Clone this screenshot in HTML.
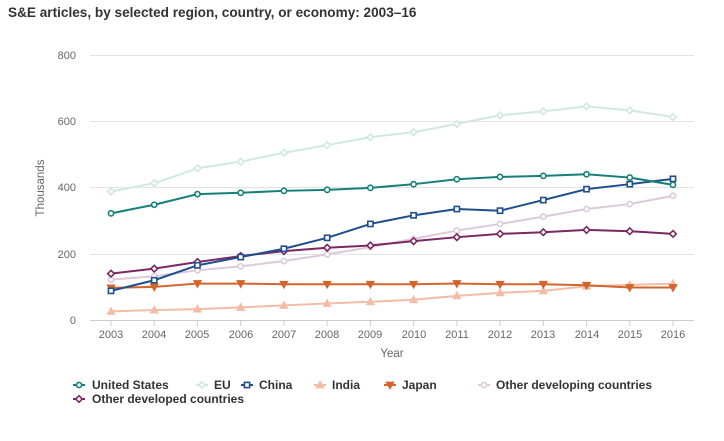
<!DOCTYPE html>
<html><head><meta charset="utf-8"><style>
body{margin:0;background:#fff;width:724px;height:436px;overflow:hidden;font-family:"Liberation Sans",Arial,sans-serif}
svg text{font-family:"Liberation Sans",Arial,sans-serif}
</style></head><body>
<svg id="s" width="724" height="436" xmlns="http://www.w3.org/2000/svg">
<text x="8" y="17" font-size="13.6" font-weight="bold" fill="#333">S&amp;E articles, by selected region, country, or economy: 2003–16</text>
<g stroke="#e3e3e3" stroke-width="1">
<line x1="90" x2="694" y1="55.5" y2="55.5"/><line x1="90" x2="694" y1="121.5" y2="121.5"/><line x1="90" x2="694" y1="187.5" y2="187.5"/><line x1="90" x2="694" y1="254.5" y2="254.5"/>
</g>
<line x1="90" x2="694" y1="320.5" y2="320.5" stroke="#ccc"/>
<g font-size="11" fill="#666" text-anchor="end">
<text x="76" y="59">800</text><text x="76" y="125">600</text><text x="76" y="191">400</text><text x="76" y="258">200</text><text x="76" y="324">0</text>
</g>
<text transform="translate(44,188) rotate(-90)" font-size="11.5" fill="#666" text-anchor="middle">Thousands</text>
<g id="ticks" stroke="#ccc"></g>
<g font-size="11" fill="#666" text-anchor="middle">
<text x="111" y="338">2003</text><text x="154" y="338">2004</text><text x="197" y="338">2005</text><text x="241" y="338">2006</text><text x="284" y="338">2007</text><text x="327" y="338">2008</text><text x="370" y="338">2009</text><text x="414" y="338">2010</text><text x="457" y="338">2011</text><text x="500" y="338">2012</text><text x="543" y="338">2013</text><text x="587" y="338">2014</text><text x="630" y="338">2015</text><text x="673" y="338">2016</text>
</g>
<text x="392" y="357" font-size="11.5" fill="#666" text-anchor="middle">Year</text>
<g id="series"></g>
<g font-size="12" font-weight="bold" fill="#333">
<text x="92" y="389">United States</text><text x="214" y="389">EU</text><text x="259" y="389">China</text><text x="332" y="389">India</text><text x="402" y="389">Japan</text><text x="496" y="389">Other developing countries</text>
<text x="92" y="403">Other developed countries</text>
</g>
<g id="legend"></g>
</svg>
<script>
var ns="http://www.w3.org/2000/svg";
function el(t,a,p){var e=document.createElementNS(ns,t);for(var k in a)e.setAttribute(k,a[k]);p.appendChild(e);return e;}
var X=[];for(var i=0;i<14;i++)X.push(111+i*43.23);
var tk=document.getElementById('ticks');X.forEach(function(x){el('line',{x1:x,x2:x,y1:320,y2:326},tk);});
function Y(v){return 320-v*0.33125;}
var S=[
["#cfe9e1","d",[388,413,458,478,505,528,552,567,592,618,630,645,633,613]],
["#ddc9d9","c",[122,132,150,162,178,198,220,245,270,290,312,335,350,375]],
["#f2bca6","t",[26,30,33,38,44,50,55,61,73,82,88,102,106,110]],
["#d2642c","v",[97,100,110,110,108,108,108,108,110,108,108,105,98,98]],
["#7b2762","d",[140,155,175,193,208,218,225,238,250,260,265,272,268,260]],
["#1f4e8c","s",[88,120,165,190,215,248,290,316,335,330,362,395,410,426]],
["#158079","c",[322,348,380,384,390,393,399,410,425,432,435,440,430,408]]
];
function mark(g,m,x,y,c){
 var a={fill:"#fff",stroke:c,"stroke-width":1.6};
 if(m=="c"){a.cx=x;a.cy=y;a.r=2.6;el('circle',a,g);}
 else if(m=="s"){a.x=x-2.6;a.y=y-2.6;a.width=5.2;a.height=5.2;el('rect',a,g);}
 else if(m=="d"){a.points=[x,y-3.3,x+3.3,y,x,y+3.3,x-3.3,y].join(' ');el('polygon',a,g);}
 else if(m=="t"){a.points=[x,y-3.3,x+3.3,y+2.6,x-3.3,y+2.6].join(' ');a.fill=c;el('polygon',a,g);}
 else if(m=="v"){a.points=[x,y+3.3,x+3.3,y-2.6,x-3.3,y-2.6].join(' ');a.fill=c;el('polygon',a,g);}
}
var g=document.getElementById('series');
S.forEach(function(s){
 var p=s[2].map(function(v,i){return X[i]+","+Y(v);}).join(' ');
 el('polyline',{points:p,fill:"none",stroke:s[0],"stroke-width":2},g);
 s[2].forEach(function(v,i){mark(g,s[1],X[i],Y(v),s[0]);});
});
var lg=document.getElementById('legend');
var L=[[79,385,"#158079","c"],[202,385,"#cfe9e1","d"],[247,385,"#1f4e8c","s"],[320,385,"#f2bca6","t"],[390,385,"#d2642c","v"],[484,385,"#ddc9d9","c"],[79,399,"#7b2762","d"]];
L.forEach(function(l){el('line',{x1:l[0]-6,x2:l[0]+6,y1:l[1],y2:l[1],stroke:l[2],"stroke-width":2},lg);mark(lg,l[3],l[0],l[1],l[2]);});
</script>
</body></html>
